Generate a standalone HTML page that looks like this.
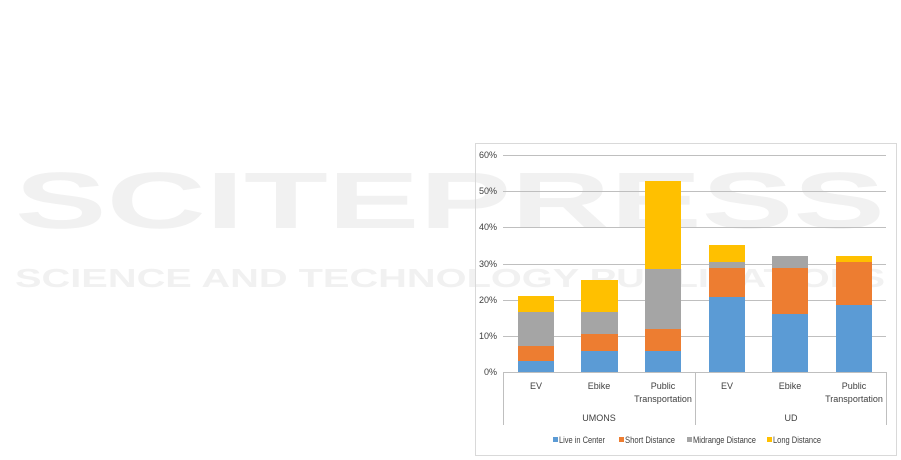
<!DOCTYPE html>
<html><head><meta charset="utf-8"><style>
html,body{margin:0;padding:0;background:#fff;}
svg{display:block;}
text{font-family:"Liberation Sans",sans-serif;}
</style></head><body>
<svg width="901" height="460" viewBox="0 0 901 460" xmlns="http://www.w3.org/2000/svg">
<g fill="#f1f1f1" font-weight="bold">
<text x="15" y="228" font-size="80" textLength="870" lengthAdjust="spacingAndGlyphs">SCITEPRESS</text>
<text x="15" y="287" font-size="26" textLength="870" lengthAdjust="spacingAndGlyphs">SCIENCE AND TECHNOLOGY PUBLICATIONS</text>
</g>
<rect x="475.5" y="143.5" width="421" height="312" fill="none" stroke="#d9d9d9"/>
<g stroke="#bfbfbf" stroke-width="1">
<line x1="503" x2="886" y1="155.5" y2="155.5"/>
<line x1="503" x2="886" y1="191.5" y2="191.5"/>
<line x1="503" x2="886" y1="227.5" y2="227.5"/>
<line x1="503" x2="886" y1="264.5" y2="264.5"/>
<line x1="503" x2="886" y1="300.5" y2="300.5"/>
<line x1="503" x2="886" y1="336.5" y2="336.5"/>
</g>
<g font-size="9" fill="#404040" text-anchor="end">
<text x="497" y="158">60%</text>
<text x="497" y="194">50%</text>
<text x="497" y="230">40%</text>
<text x="497" y="267">30%</text>
<text x="497" y="303">20%</text>
<text x="497" y="339">10%</text>
<text x="497" y="375">0%</text>
</g>
<g>
<rect x="518" y="361" width="36" height="11" fill="#5b9bd5"/>
<rect x="518" y="346" width="36" height="15" fill="#ed7d31"/>
<rect x="518" y="312" width="36" height="34" fill="#a5a5a5"/>
<rect x="518" y="296" width="36" height="16" fill="#ffc000"/>
<rect x="581" y="351" width="37" height="21" fill="#5b9bd5"/>
<rect x="581" y="334" width="37" height="17" fill="#ed7d31"/>
<rect x="581" y="312" width="37" height="22" fill="#a5a5a5"/>
<rect x="581" y="280" width="37" height="32" fill="#ffc000"/>
<rect x="645" y="351" width="36" height="21" fill="#5b9bd5"/>
<rect x="645" y="329" width="36" height="22" fill="#ed7d31"/>
<rect x="645" y="269" width="36" height="60" fill="#a5a5a5"/>
<rect x="645" y="181" width="36" height="88" fill="#ffc000"/>
<rect x="709" y="297" width="36" height="75" fill="#5b9bd5"/>
<rect x="709" y="268" width="36" height="29" fill="#ed7d31"/>
<rect x="709" y="262" width="36" height="6" fill="#a5a5a5"/>
<rect x="709" y="245" width="36" height="17" fill="#ffc000"/>
<rect x="772" y="314" width="36" height="58" fill="#5b9bd5"/>
<rect x="772" y="268" width="36" height="46" fill="#ed7d31"/>
<rect x="772" y="256" width="36" height="12" fill="#a5a5a5"/>
<rect x="836" y="305" width="36" height="67" fill="#5b9bd5"/>
<rect x="836" y="262" width="36" height="43" fill="#ed7d31"/>
<rect x="836" y="256" width="36" height="6" fill="#ffc000"/>
</g>
<g stroke="#bfbfbf">
<line x1="503" x2="886" y1="372.5" y2="372.5"/>
<line x1="503.5" x2="503.5" y1="372" y2="425"/>
<line x1="695.5" x2="695.5" y1="372" y2="425"/>
<line x1="886.5" x2="886.5" y1="372" y2="425"/>
</g>
<g font-size="9" fill="#404040" text-anchor="middle">
<text x="536" y="389">EV</text>
<text x="599" y="389">Ebike</text>
<text x="663" y="389">Public</text>
<text x="663" y="402">Transportation</text>
<text x="727" y="389">EV</text>
<text x="790" y="389">Ebike</text>
<text x="854" y="389">Public</text>
<text x="854" y="402">Transportation</text>
<text x="599" y="421">UMONS</text>
<text x="791" y="421">UD</text>
</g>
<g font-size="9" fill="#404040">
<rect x="553" y="437" width="5" height="5" fill="#5b9bd5"/><text x="559" y="443" textLength="46" lengthAdjust="spacingAndGlyphs">Live in Center</text>
<rect x="619" y="437" width="5" height="5" fill="#ed7d31"/><text x="625" y="443" textLength="50" lengthAdjust="spacingAndGlyphs">Short Distance</text>
<rect x="687" y="437" width="5" height="5" fill="#a5a5a5"/><text x="693" y="443" textLength="63" lengthAdjust="spacingAndGlyphs">Midrange Distance</text>
<rect x="767" y="437" width="5" height="5" fill="#ffc000"/><text x="773" y="443" textLength="48" lengthAdjust="spacingAndGlyphs">Long Distance</text>
</g>
</svg>
</body></html>
